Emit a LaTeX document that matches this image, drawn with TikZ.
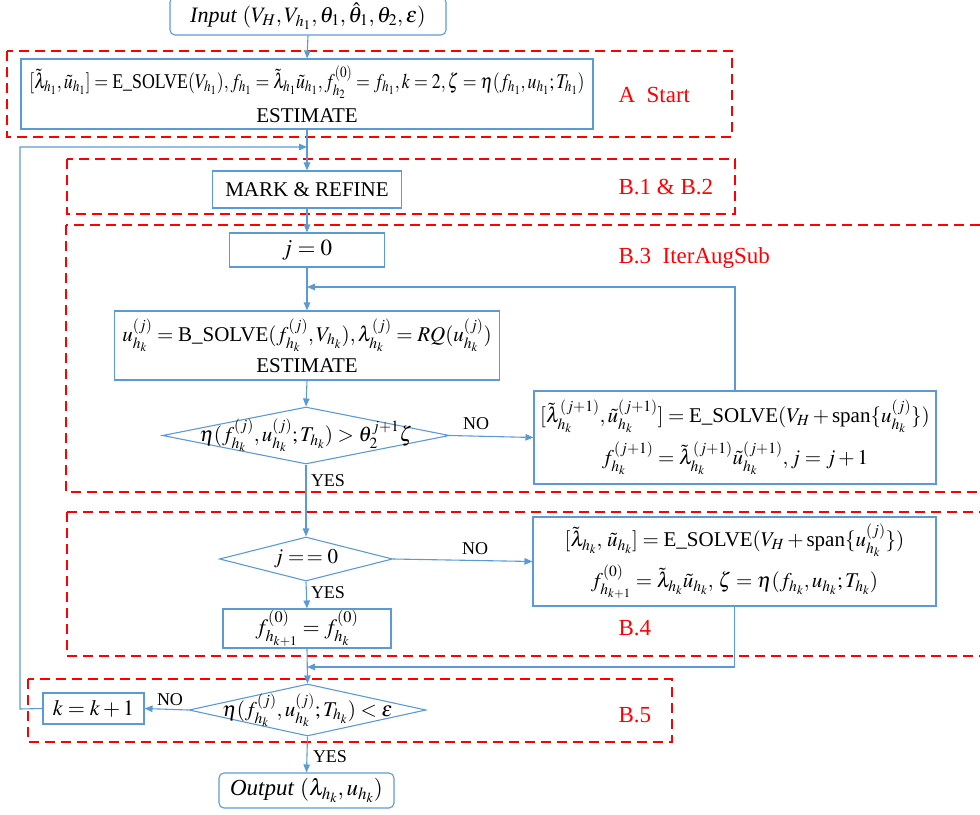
\documentclass[tikz,border=0pt]{standalone}
\usepackage{amsmath}
\usepackage{graphicx}
\usepackage{mathptmx}
\usepackage[no-math]{fontspec}
\setmainfont{Liberation Serif}
\usetikzlibrary{arrows.meta, shapes.geometric}
\definecolor{flow}{RGB}{91,155,213}
\tikzstyle{arrow} = [draw=flow, line width=1.1pt, -{Triangle[length=8pt, width=6.5pt]}]
\tikzstyle{box} = [draw=flow, line width=1.1pt, inner sep=1pt, align=center]
\tikzstyle{term} = [box, rounded corners=5pt]
\tikzstyle{test} = [diamond, draw=flow, line width=1.1pt, inner sep=0pt]
\tikzstyle{group} = [draw=red, line width=2.2pt, dash pattern=on 10pt off 6pt]
\tikzstyle{tag} = [text=red, font=\fontsize{23}{27}\selectfont, anchor=base west]
\tikzstyle{yn} = [font=\fontsize{18}{20}\selectfont]
\tikzstyle{lg} = [font=\fontsize{22}{26}\selectfont]
\tikzstyle{xl} = [font=\fontsize{23}{27}\selectfont]

\begin{document}
\begin{tikzpicture}[x=1pt, y=-1pt, every node/.append style={font=\fontsize{21}{25}\selectfont}]
    \useasboundingbox (0,0) rectangle (980,814);
    \draw[group] (7,51) rectangle (732,137);
    \draw[group] (67,159) rectangle (735,214);
    \draw[group] (66,225) rectangle (1000,492);
    \draw[group] (67,512) rectangle (1000,656);
    \draw[group] (28,679) rectangle (672,742);
    \node[tag] (tA) at (615,102) {A\ \ Start};
    \node[tag] (tB12) at (615,194) {B.1 \& B.2};
    \node[tag] (tB3) at (615,263) {B.3\ \ IterAugSub};
    \node[tag] (tB4) at (615,635) {B.4};
    \node[tag] (tB5) at (615,722) {B.5};

    \node[term, lg, minimum width=276, minimum height=38] (in) at (308,16)
      {\textit{Input} $(V_H,V_{h_1},\theta_1,\hat{\theta}_1,\theta_2,\varepsilon)$};
    \node[box, minimum width=572, minimum height=70] (est0) at (307,94)
      {\scalebox{0.85}[1]{$[\tilde{\lambda}_{h_1},\tilde{u}_{h_1}]=\text{E\_SOLVE}(V_{h_1}),f_{h_1}=\tilde{\lambda}_{h_1}\tilde{u}_{h_1},f_{h_2}^{(0)}=f_{h_1},k=2,\zeta=\eta(f_{h_1},u_{h_1};T_{h_1})$}\\[9pt]
       ESTIMATE};
    \node[box, minimum width=189, minimum height=37] (mark) at (307,189.5) {MARK \& REFINE};
    \node[box, xl, minimum width=155, minimum height=34] (j0) at (307,250) {$j=0$};
    \node[box, minimum width=385, minimum height=69] (bsolve) at (307,345.5)
      {$u_{h_k}^{(j)}=\text{B\_SOLVE}(f_{h_k}^{(j)},V_{h_k}),\lambda_{h_k}^{(j)}=RQ(u_{h_k}^{(j)})$\\[6pt] ESTIMATE};
    \node[test, minimum width=287, minimum height=57,
      label={center:$\eta(f_{h_k}^{(j)},u_{h_k}^{(j)};T_{h_k})>\theta_2^{j+1}\zeta$}] (d1) at (306,435.5) {};
    \node[box, minimum width=402, minimum height=93] (esolve1) at (735,437.5)
      {$[\tilde{\lambda}_{h_k}^{(j+1)},\tilde{u}_{h_k}^{(j+1)}]=\text{E\_SOLVE}(V_H+\text{span}\{u_{h_k}^{(j)}\})$\\[8pt]
       $f_{h_k}^{(j+1)}=\tilde{\lambda}_{h_k}^{(j+1)}\tilde{u}_{h_k}^{(j+1)},j=j+1$};
    \node[test, xl, minimum width=173, minimum height=44, label={center:$j\mathrel{=\,=}0$}] (d2) at (306,559) {};
    \node[box, minimum width=403, minimum height=89] (esolve2) at (734.5,561.5)
      {$[\tilde{\lambda}_{h_k},\,\tilde{u}_{h_k}]=\text{E\_SOLVE}(V_H+\text{span}\{u_{h_k}^{(j)}\})$\\[7pt]
       $f_{h_{k+1}}^{(0)}=\tilde{\lambda}_{h_k}\tilde{u}_{h_k},\,\zeta=\eta(f_{h_k},u_{h_k};T_{h_k})$};
    \node[box, lg, minimum width=168, minimum height=39] (fnext) at (307,628.5) {$f_{h_{k+1}}^{(0)}=f_{h_k}^{(0)}$};
    \node[test, minimum width=237, minimum height=52,
      label={center:$\eta(f_{h_k}^{(j)},u_{h_k}^{(j)};T_{h_k})<\varepsilon$}] (d3) at (307.5,710) {};
    \node[box, lg, minimum width=101, minimum height=31] (kinc) at (93.5,708.5) {$k=k+1$};
    \node[term, xl, minimum width=175, minimum height=35] (out) at (306.5,790.5)
      {\textit{Output} $(\lambda_{h_k},u_{h_k})$};

    \coordinate (merge1) at (307,147);
    \coordinate (merge2) at (307,287);
    \coordinate (merge3) at (307,667);
    \coordinate (loopbot) at (20,709);
    \coordinate (looptop) at (20,147);

    \draw[arrow] (in.south) -- (est0.north);
    \draw[arrow] (est0.south) -- (mark.north);
    \draw[arrow] (kinc.west) -- (loopbot) -- (looptop) -- (merge1);
    \draw[arrow] (mark.south) -- (j0.north);
    \draw[arrow] (j0.south) -- (bsolve.north);
    \draw[arrow] (esolve1.north) |- (merge2);
    \draw[arrow] (bsolve.south) -- (d1.north);
    \draw[arrow] (d1.east) -- (esolve1.west);
    \draw[arrow] (d1.south) -- (d2.north);
    \draw[arrow] (d2.east) -- (esolve2.west);
    \draw[arrow] (d2.south) -- (fnext.north);
    \draw[arrow] (esolve2.south) |- (merge3);
    \draw[arrow] (fnext.south) -- (d3.north);
    \draw[arrow] (d3.west) -- (kinc.east);
    \draw[arrow] (d3.south) -- (out.north);

    \node[yn] (no1) at (476,424) {NO};
    \node[yn] (yes1) at (328,481) {YES};
    \node[yn] (no2) at (475,549) {NO};
    \node[yn] (yes2) at (328,593) {YES};
    \node[yn] (no3) at (170,700) {NO};
    \node[yn] (yes3) at (330,757) {YES};
\end{tikzpicture}
\end{document}
